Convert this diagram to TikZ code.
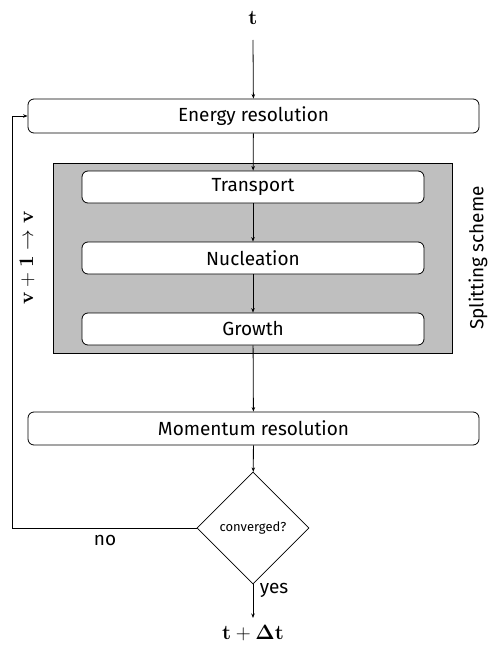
\documentclass[tikz,border=0pt]{standalone}
\usepackage[no-math]{fontspec}
\setmainfont{Fira Sans}
\usetikzlibrary{shapes.geometric,arrows.meta}
\begin{document}
\begin{tikzpicture}[x=1pt,y=-1pt,
  line width=0.8pt,
  box/.style={draw,rounded corners=6pt,fill=white,inner sep=0pt},
  conn/.style={draw,-{Stealth[length=4.5pt,width=3.5pt]}},
  txt/.style={font=\fontsize{19}{22}\selectfont},
  mtxt/.style={font=\fontsize{22}{25}\selectfont}]
\useasboundingbox (0,0) rectangle (487,650);
\node[mtxt] (t) at (253,18) {$\mathbf{t}$};
\node[box,minimum width=451pt,minimum height=34pt,txt] (energy) at (253.5,116) {Energy resolution};
\node[draw,fill=black!25,minimum width=399pt,minimum height=190pt] (split) at (252.5,258) {};
\node[box,minimum width=342pt,minimum height=32pt,txt] (transport) at (253,187) {Transport};
\node[box,minimum width=342pt,minimum height=32pt,txt] (nucl) at (253,258) {Nucleation};
\node[box,minimum width=342pt,minimum height=32pt,txt] (growth) at (253,329) {Growth};
\node[box,minimum width=451pt,minimum height=33pt,txt] (momentum) at (253.5,428.5) {Momentum resolution};
\node[draw,diamond,shape aspect=1,minimum width=112pt,minimum height=112pt,inner sep=0pt,font=\fontsize{13}{15}\selectfont,fill=white] (conv) at (253,528) {converged?};
\node[mtxt] (tdt) at (253,633) {$\mathbf{t+\Delta t}$};
\coordinate (tstart) at (253,40);
\coordinate (cend) at (253,618);
\coordinate (cl) at (12,528);
\coordinate (ct) at (12,116);
\node[mtxt,rotate=90] (vlabel) at (27,258) {$\mathbf{v+1\rightarrow v}$};
\node[txt,rotate=90] (slabel) at (478,258) {Splitting scheme};
\node[txt] (no) at (105,540) {no};
\node[txt] (yes) at (274,590) {yes};
\draw[conn] (tstart) -- (energy);
\draw[conn] (energy) -- (transport);
\draw[conn] (transport) -- (nucl);
\draw[conn] (nucl) -- (growth);
\draw[conn] (growth) -- (momentum);
\draw[conn] (momentum) -- (conv);
\draw[conn] (conv) -- (cend);
\draw[conn] (conv.west) -- (cl) -- (ct) -- (energy.west);
\end{tikzpicture}
\end{document}
